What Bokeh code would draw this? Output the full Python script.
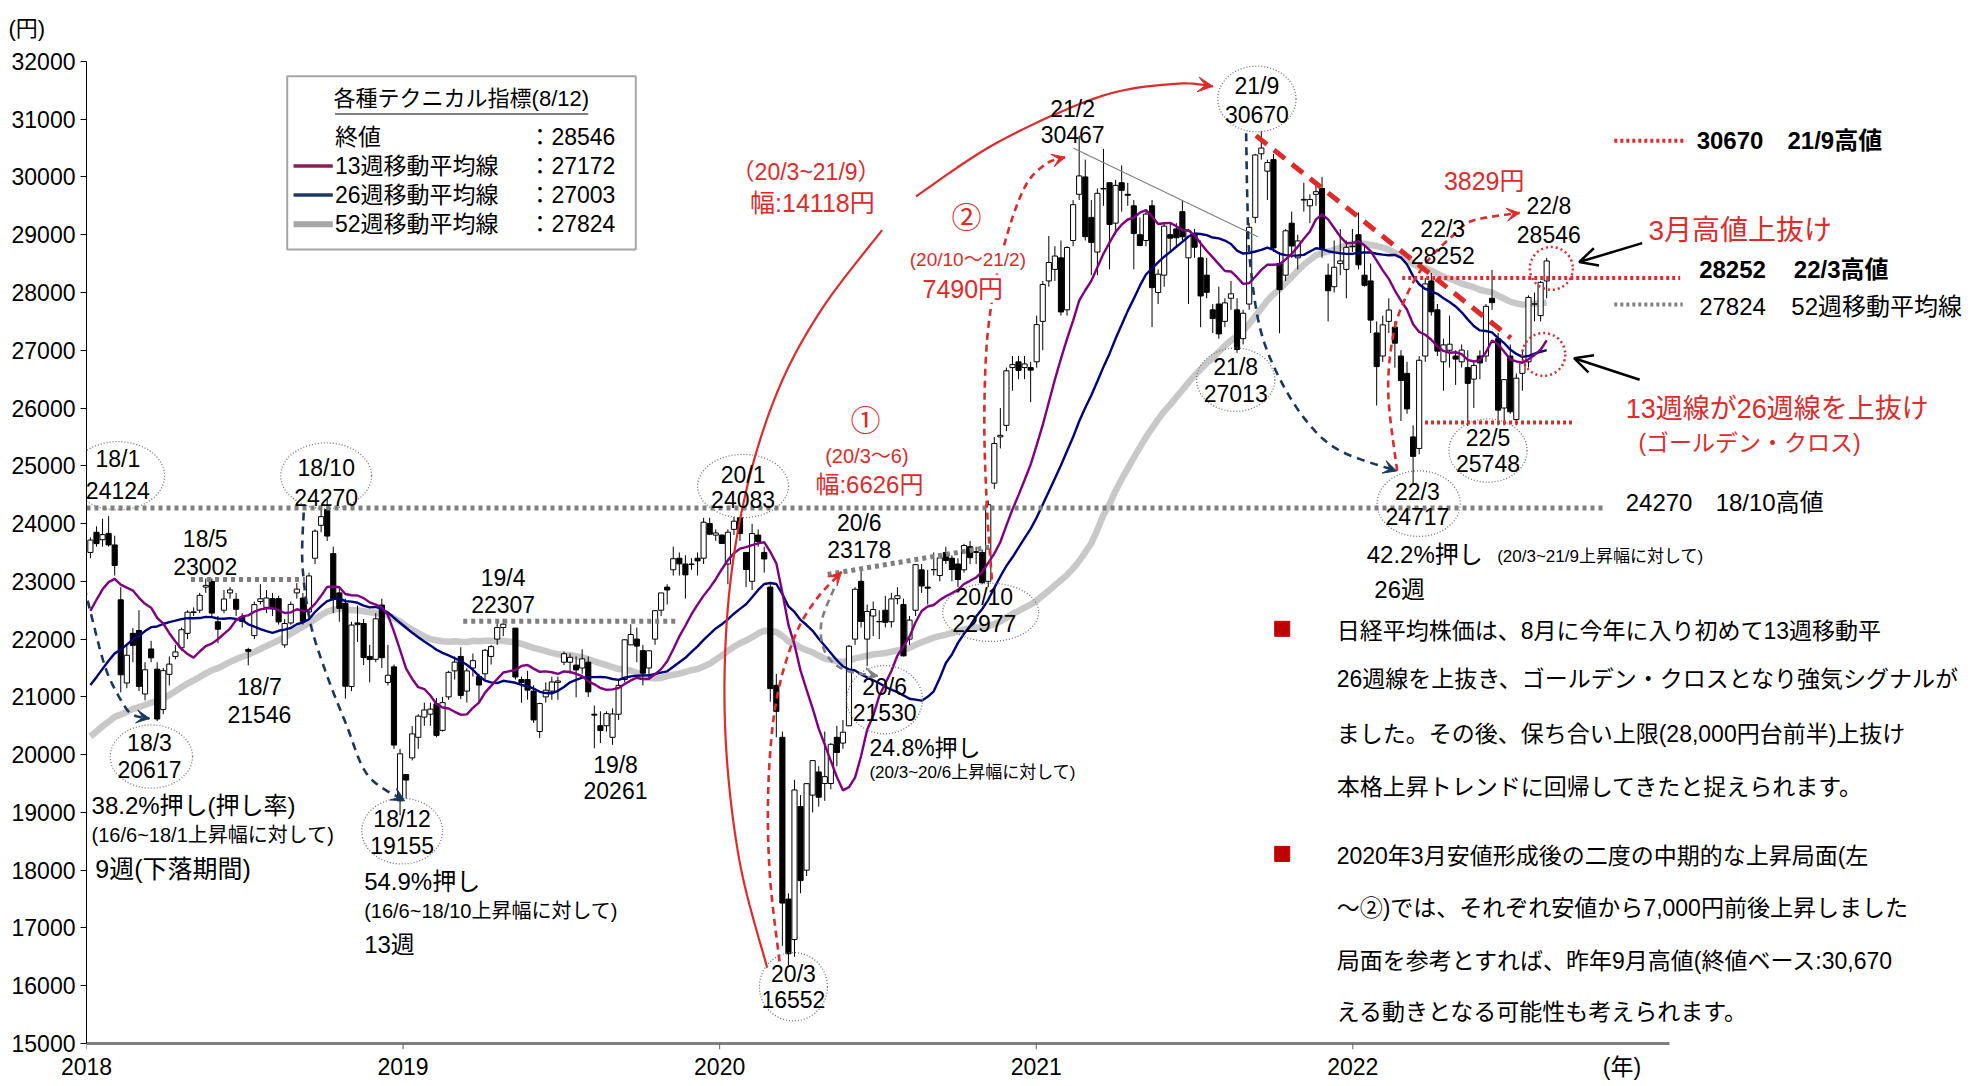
import numpy as np
import pandas as pd
from bokeh.plotting import figure
from bokeh.models import Range1d, FixedTicker, Label, Arrow, VeeHead, OpenHead, Title
from bokeh.embed import file_html
from bokeh.resources import INLINE

# ---------------- data (weekly Nikkei 225, yen) ----------------
close_2017 = [19454, 19287, 19137, 19467, 18918, 19378, 19234, 19283, 19469, 19604, 19521, 19262, 18909,
              18664, 18335, 18620, 19196, 19445, 19883, 19590, 19686, 20177, 20013, 19943, 20132, 20033,
              19929, 20118, 20099, 19959, 19952, 19729, 19470, 19452, 19691, 19274, 19909, 20296, 20356,
              20690, 21155, 21457, 22008, 22539, 22681, 22396, 22550, 22819, 22811, 22553, 22902, 22765]

o18 = [23500, 23850, 23720, 23830, 23630, 22680, 21240, 22100, 22150, 21050, 21830, 21480, 20780, 21390, 21700,
       21850, 22100, 22460, 22500, 22900, 23000, 22300, 22500, 22800, 22690, 22380, 21820, 22060, 22650, 22550,
       22700, 22700, 21900, 22280, 22800, 22710, 22470, 23400, 23970, 24240, 23480, 22800, 22620, 21180, 22280,
       22270, 21700, 21650, 22590, 21250, 21520, 19200]
h18 = [23760, 23952, 24084, 24129, 23790, 22900, 21900, 22190, 22500, 21600, 21970, 21600, 21500, 21700, 21900,
       22200, 22500, 22550, 22800, 23050, 23050, 22400, 22850, 22900, 22800, 22450, 21850, 22650, 22950, 22850,
       22800, 22750, 22350, 22650, 22970, 22800, 23150, 23900, 24300, 24450, 23600, 22900, 22700, 22300, 22580,
       22350, 21900, 22450, 22700, 21900, 21560, 20100]
l18 = [23400, 23600, 23600, 23600, 23100, 21078, 21150, 21600, 21100, 20940, 21600, 20580, 20700, 21200, 21650,
       21800, 22000, 22400, 22450, 22800, 22400, 21930, 22450, 22700, 22400, 22200, 21546, 22000, 22600, 22450,
       22400, 22250, 21850, 22250, 22700, 22250, 22400, 23300, 23850, 23700, 22450, 22300, 20970, 21100, 21950,
       21550, 21250, 21600, 21500, 21200, 20100, 18950]
c18 = [23714, 23653, 23808, 23631, 23274, 21382, 21720, 21892, 21181, 21469, 21676, 20617, 21454, 21567, 21778,
       22162, 22467, 22472, 22758, 22930, 22450, 22171, 22694, 22851, 22516, 22304, 21788, 22597, 22698, 22712,
       22525, 22298, 22270, 22601, 22865, 22307, 23094, 23869, 24120, 23784, 22694, 22532, 21184, 22243, 22250,
       21680, 21646, 22351, 21678, 21374, 20166, 20015]

o19 = [19655, 19944, 20300, 20650, 20700, 20880, 20420, 21000, 21450, 21700, 21100, 21500, 21350, 21400, 21700,
       22000, 22200, 22190, 21300, 21300, 21100, 20400, 21000, 21100, 21250, 21600, 21600, 21550, 21500, 21600,
       20700, 20500, 20500, 20300, 20700, 21300, 21900, 22000, 21800, 21500, 22000, 22500, 22900, 23200, 23400,
       23300, 23300, 23400, 23400, 24000, 23800, 23800]
h19 = [19655, 20494, 20700, 20900, 20900, 20980, 21000, 21450, 21700, 21860, 21500, 21750, 21400, 21830, 21900,
       22300, 22350, 22190, 21350, 21450, 21200, 20900, 21250, 21350, 21350, 21784, 21750, 21700, 21823, 21700,
       20850, 20750, 20750, 20800, 21300, 22000, 22255, 22200, 21900, 21800, 22500, 22800, 22950, 23600, 23500,
       23450, 23400, 23500, 24100, 24100, 23900, 23810]
l19 = [19241, 19900, 20100, 20500, 20500, 20300, 20400, 20950, 21300, 20960, 20900, 21350, 20900, 21300, 21560,
       21900, 22050, 21300, 20900, 20950, 20550, 20289, 20900, 20950, 20950, 21550, 21400, 20993, 21400, 21000,
       20110, 20200, 20400, 20170, 20600, 21250, 21900, 21600, 21200, 21300, 21900, 22400, 22600, 23100, 23100,
       22700, 23200, 23100, 23300, 23800, 23700, 23650]
c19 = [19561, 20359, 20666, 20774, 20788, 20333, 20900, 21425, 21602, 21025, 21450, 21627, 21205, 21807, 21870,
       22200, 22258, 21344, 21250, 21117, 20601, 20884, 21116, 21258, 21275, 21746, 21685, 21466, 21658, 21087,
       20684, 20418, 20710, 20704, 21199, 21988, 22079, 21879, 21410, 21798, 22492, 22799, 22850, 23391, 23303,
       23112, 23293, 23354, 24023, 23816, 23837, 23656]

o20 = [23300, 23900, 24100, 23500, 23000, 23800, 23500, 22900, 21200, 20300, 17500, 16800, 19100, 18000, 19300,
       19700, 19500, 19500, 20300, 20200, 20500, 22000, 23000, 22000, 22400, 22300, 22500, 22300, 22700, 22600,
       22000, 22500, 23200, 22900, 23200, 23100, 23500, 23400, 23300, 23200, 23600, 23500, 23500, 23000, 24700,
       25500, 25700, 26700, 26800, 26700, 26700, 26800]
h20 = [23900, 24115, 24100, 23500, 23995, 23900, 23600, 22950, 21400, 20400, 17600, 19564, 19300, 19500, 19900,
       19800, 20400, 20200, 20500, 20600, 21900, 22900, 23185, 22600, 22650, 22500, 22750, 22800, 22900, 22700,
       22400, 23300, 23300, 23200, 23500, 23450, 23600, 23450, 23400, 23650, 23700, 23600, 23550, 24400, 25500,
       26000, 26700, 26900, 26900, 26900, 26800, 27600]
l20 = [22950, 23800, 23700, 22900, 22850, 23600, 23150, 20916, 20300, 16690, 16358, 16500, 17600, 17900, 19000,
       19100, 19200, 19400, 19800, 20100, 20500, 21900, 22200, 21530, 22050, 22000, 22200, 22200, 22600, 21700,
       21900, 22400, 22800, 22600, 23100, 23000, 23300, 23000, 22900, 23150, 23300, 23300, 22950, 22900, 24600,
       25300, 25600, 26300, 26500, 26500, 26100, 26700]
c20 = [23850, 24041, 23827, 23205, 23827, 23688, 23387, 21143, 20750, 17431, 16553, 19389, 17820, 19498, 19897,
       19262, 19619, 20179, 20037, 20388, 21877, 22863, 22305, 22478, 22512, 22306, 22290, 22696, 22751, 21710,
       22329, 23289, 22920, 22882, 23205, 23406, 23360, 23204, 23030, 23619, 23410, 23516, 22977, 24325, 25385,
       25527, 26644, 26751, 26652, 26763, 26656, 27444]

o21 = [27500, 28200, 28400, 28600, 27700, 28900, 29700, 30000, 29300, 28700, 29800, 29900, 29200, 29900, 29700,
       29500, 29000, 28900, 29500, 28000, 28300, 29000, 29100, 29400, 28600, 29000, 28600, 28300, 27700, 27800,
       27500, 27900, 27700, 27200, 27800, 29300, 30400, 30100, 30300, 28500, 28300, 29200, 28600, 29600, 29500,
       29700, 29800, 28300, 28100, 28500, 28400, 28800]
h21 = [28200, 28979, 28800, 28900, 28800, 29600, 30714, 30300, 29600, 29800, 30485, 29900, 29950, 30200, 29900,
       29600, 29300, 29400, 29600, 28400, 29200, 29200, 29200, 29600, 29100, 29100, 28900, 28600, 27800, 28100,
       27900, 28200, 27900, 27700, 29200, 30400, 30795, 30300, 30400, 28700, 29100, 29400, 29000, 29900, 29700,
       29900, 30000, 28500, 28900, 29100, 28900, 29100]
l21 = [27000, 28100, 28200, 27600, 27600, 28800, 29600, 28900, 28300, 28300, 29500, 28400, 29000, 29400, 29500,
       28400, 28800, 28800, 27400, 27800, 28100, 28700, 28800, 28900, 27800, 28600, 27400, 27900, 27300, 27200,
       27400, 27700, 26954, 27100, 27700, 29200, 30300, 29600, 28700, 27294, 28200, 28600, 28400, 29400, 29200,
       29500, 28600, 27500, 28000, 28300, 27900, 28700]
c21 = [28139, 28519, 28631, 27663, 28779, 29520, 30018, 28966, 28864, 29717, 29792, 29176, 29854, 29768, 29683,
       29020, 28813, 29357, 28084, 28317, 29149, 28941, 28948, 28964, 29066, 28783, 27940, 28003, 27548, 27283,
       27820, 27977, 27013, 27641, 29128, 30381, 30500, 30249, 28771, 28049, 29068, 28805, 28893, 29612, 29610,
       29745, 28751, 28030, 28437, 28546, 28782, 28792]

o22 = [29000, 28300, 28200, 27300, 26900, 27500, 27400, 26900, 26600, 25500, 25300, 26900, 28200, 27700, 26800,
       27000, 26900, 26800, 26700, 26500, 26900, 26900, 27900, 27200, 26000, 26900, 25800, 26600, 26800, 27800,
       27600, 28200]
h22 = [29388, 28800, 28500, 27500, 27600, 27900, 27500, 27000, 26800, 25700, 26900, 28250, 28338, 27800, 27200,
       27600, 27000, 27100, 27000, 26800, 27000, 27800, 28389, 27300, 26500, 27100, 26600, 27000, 27950, 28000,
       28200, 28600]
l22 = [28400, 28100, 27300, 26044, 26800, 27300, 26700, 25776, 25900, 24681, 25200, 26800, 27600, 26900, 26300,
       26700, 26400, 26700, 25688, 26000, 26500, 26800, 27700, 25700, 25700, 25900, 25700, 26300, 26700, 27500,
       27500, 27900]
c22 = [28479, 28124, 27522, 26717, 27440, 27696, 27122, 26476, 25985, 25163, 26827, 28149, 27666, 26985, 27093,
       27105, 26847, 27003, 26427, 26739, 26781, 27761, 27824, 25963, 26491, 25935, 26517, 26788, 27915, 27801,
       28175, 28546]

year_ticks = [2018, 2019, 2020, 2021, 2022]
yen_ticks = list(range(15000, 32001, 1000))
level_1810 = 24270
level_2203 = 28252
level_2205 = 25748
level_1805 = 23002
level_1904 = 22307
legend_values = ["28546", "27172", "27003", "27824"]

# ---------------- derived ----------------
weeks = pd.date_range("2018-01-05", "2022-08-12", freq="W-FRI")
weeks = weeks[weeks != pd.Timestamp("2019-05-03")]   # Golden Week: no trading
opens = np.array(o18 + o19 + o20 + o21 + o22, float)
highs = np.array(h18 + h19 + h20 + h21 + h22, float)
lows = np.array(l18 + l19 + l20 + l21 + l22, float)
closes = np.array(c18 + c19 + c20 + c21 + c22, float)
n = len(closes)
weeks = weeks[:n]
x = np.array([d.year + (d.dayofyear - 0.5) / (366 if d.is_leap_year else 365) for d in weeks])

allc = pd.Series(close_2017 + list(closes))
ma13 = allc.rolling(13).mean().values[-n:]
ma26 = allc.rolling(26).mean().values[-n:]
ma52 = allc.rolling(52).mean().values[-n:]

FONT = "'Liberation Sans', 'Noto Sans CJK JP', sans-serif"
RED = "#e02a2a"
NAVY_D = "#17375e"
GRAY = "#7f7f7f"
UNIT_X = 2022.85

p = figure(width=1976, height=1082, output_backend="svg", toolbar_location=None,
           x_range=Range1d(2018, 2023.970), y_range=Range1d(14896, 32362),
           min_border_left=86, min_border_right=0, min_border_top=40, min_border_bottom=30)
p.background_fill_color = "white"
p.border_fill_color = "white"
p.outline_line_color = None
p.grid.visible = False

p.add_layout(Title(text="(円)", align="left", offset=-78, standoff=0, text_font=FONT, text_font_size="22px",
                   text_font_style="normal", text_color="black"), "above")

xa = p.xaxis[0]
xa.ticker = FixedTicker(ticks=year_ticks + [UNIT_X], minor_ticks=[])
xa.major_label_overrides = {UNIT_X: "(年)"}
xa.axis_line_color = None
xa.major_tick_line_color = None
xa.major_tick_out = 0
xa.major_tick_in = 0
xa.major_label_standoff = 4
xa.major_label_text_font = FONT
xa.major_label_text_font_size = "23px"
xa.major_label_text_color = "black"

ya = p.yaxis[0]
ya.ticker = FixedTicker(ticks=yen_ticks, minor_ticks=[])
ya.bounds = (15000, 32000)
ya.axis_line_color = "black"
ya.major_tick_line_color = "black"
ya.major_tick_out = 6
ya.major_tick_in = 0
ya.major_label_standoff = 5
ya.major_label_text_font = FONT
ya.major_label_text_font_size = "23px"
ya.major_label_text_color = "black"


def label(xv, yv, s, size, color="black", align="center", bold=False, bg=None):
    lab = Label(x=xv, y=yv, text=s, text_font=FONT, text_font_size=f"{size}px", text_color=color,
                text_align=align, text_baseline="middle", text_font_style="bold" if bold else "normal")
    if bg is not None:
        lab.background_fill_color = bg
    p.add_layout(lab)


def smooth(pts, k=14):
    P = np.array(pts, float)
    P = np.vstack([P[0], P, P[-1]])
    out = []
    for i in range(1, len(P) - 2):
        p0, p1, p2, p3 = P[i - 1], P[i], P[i + 1], P[i + 2]
        for t in np.linspace(0, 1, k, endpoint=False):
            t2, t3 = t * t, t * t * t
            out.append(0.5 * ((2 * p1) + (-p0 + p2) * t + (2 * p0 - 5 * p1 + 4 * p2 - p3) * t2
                              + (-p0 + 3 * p1 - 3 * p2 + p3) * t3))
    out.append(P[-2])
    return np.array(out)


def curve(pts, color, width, dash="solid", head=False, hsize=13):
    c = smooth(pts)
    p.line(c[:, 0], c[:, 1], line_color=color, line_width=width, line_dash=dash)
    if head:
        p.add_layout(Arrow(end=VeeHead(size=hsize, fill_color=color, line_color=color, line_width=1),
                           x_start=c[-4, 0], y_start=c[-4, 1], x_end=c[-1, 0], y_end=c[-1, 1],
                           line_alpha=0))


# x axis line and year ticks (drawn on the 15000 baseline)
p.line([2018, 2023], [15000, 15000], line_color="#808080", line_width=3)
p.segment(x0=year_ticks, y0=[15000] * 5, x1=year_ticks, y1=[14896] * 5, line_color="#606060", line_width=1)

# 52-week MA under the candles
p.line(x, ma52, line_color="#c8c8c8", line_width=6.5)

# candles
bw = 0.85 * 7 / 365.25
up = closes >= opens
p.segment(x0=x, y0=lows, x1=x, y1=highs, line_color="black", line_width=1)
p.vbar(x=x[up], width=bw, top=closes[up], bottom=opens[up], fill_color="white", line_color="black", line_width=1)
p.vbar(x=x[~up], width=bw, top=opens[~up], bottom=closes[~up], fill_color="black", line_color="black",
       line_width=1)

p.line(x, ma26, line_color="#000080", line_width=2.4)
p.line(x, ma13, line_color="#800080", line_width=2.4)

# horizontal reference lines
p.line([2018.0, 2022.795], [level_1810, level_1810], line_color=GRAY, line_width=5, line_dash="4 4")
p.line([2018.33, 2018.69], [level_1805 + 30, level_1805 + 30], line_color=GRAY, line_width=5, line_dash="4 4")
p.line([2019.19, 2019.862], [level_1904, level_1904], line_color=GRAY, line_width=5, line_dash="4 4")
p.line([2020.341, 2020.860], [23120, 23600], line_color=GRAY, line_width=5, line_dash="4 4")
p.line([2022.156, 2023.034], [level_2203, level_2203], line_color=RED, line_width=4, line_dash="3 3")
p.line([2022.228, 2022.695], [level_2205, level_2205], line_color=RED, line_width=4, line_dash="3 3")

# trend lines
p.line([2021.118, 2021.700], [30496, 28964], line_color="#808080", line_width=1.2)
p.line([2021.694, 2022.499], [30715, 27212], line_color=RED, line_width=5, line_dash="14 9")

# dashed / solid swing arrows
curve([(2017.968, 24104), (2017.984, 23185), (2018.020, 22310), (2018.063, 21456), (2018.115, 20887),
       (2018.147, 20690), (2018.199, 20625)], NAVY_D, 2.6, "8 6", head=True)
curve([(2018.686, 24192), (2018.682, 23295), (2018.706, 22310), (2018.754, 21456), (2018.821, 20515),
       (2018.889, 19639), (2019.005, 19201)], NAVY_D, 2.6, "8 6", head=True)
curve([(2021.663, 30757), (2021.667, 29553), (2021.675, 28546), (2021.707, 27385), (2021.767, 26531),
       (2021.855, 25765), (2021.959, 25262), (2022.138, 24911)], NAVY_D, 2.6, "8 6", head=True)
curve([(2020.150, 16311), (2020.062, 18178), (2020.018, 20367), (2020.026, 22556), (2020.082, 24526),
       (2020.182, 26277), (2020.321, 27700), (2020.513, 29079)], RED, 2.2)
curve([(2020.620, 29664), (2020.880, 30605), (2021.203, 31394), (2021.438, 31612), (2021.558, 31569)],
      RED, 2.2, head=True, hsize=15)
curve([(2020.189, 16420), (2020.158, 17953), (2020.154, 19485), (2020.178, 20908), (2020.234, 22002),
       (2020.301, 22659), (2020.385, 23162)], RED, 2.6, "7 5", head=True)
curve([(2020.361, 22872), (2020.321, 22281), (2020.333, 21777), (2020.393, 21471), (2020.500, 21362)],
      "#808080", 2.6, "7 5", head=True)
curve([(2020.860, 23032), (2020.844, 24302), (2020.836, 25834), (2020.848, 27366), (2020.892, 28680),
       (2020.959, 29774), (2021.027, 30212), (2021.091, 30343)], RED, 2.6, "7 5", head=True)
curve([(2022.140, 24912), (2022.112, 26247), (2022.128, 27276), (2022.172, 27977), (2022.236, 28546),
       (2022.320, 29005), (2022.380, 29246), (2022.527, 29378)], RED, 2.6, "7 5", head=True)

# black pointer arrows
p.add_layout(Arrow(end=OpenHead(size=18, line_color="black", line_width=2.5), x_start=2022.914, y_start=28855,
                   x_end=2022.715, y_end=28527, line_color="black", line_width=2.5))
p.add_layout(Arrow(end=OpenHead(size=18, line_color="black", line_width=2.5), x_start=2022.906, y_start=26490,
                   x_end=2022.699, y_end=26862, line_color="black", line_width=2.5))

# red dotted circles
p.ellipse(x=[2022.627, 2022.603], y=[28417, 26928], width=0.136, height=744, fill_color=None,
          line_color=RED, line_width=2.5, line_dash="2 3")

# circled extremes
circled = [("18/1", "24124", 2018.099, 25111, 24564, 2018.099, 24827, 0.295, 1182),
           ("18/10", "24270", 2018.757, 24958, 24454, 2018.757, 24827, 0.287, 1138),
           ("18/3", "20617", 2018.199, 20208, 19748, 2018.205, 19967, 0.260, 1095),
           ("18/12", "19155", 2018.997, 18894, 18435, 2018.997, 18676, 0.255, 1138),
           ("20/1", "24083", 2020.074, 24848, 24411, 2020.074, 24651, 0.287, 1095),
           ("20/3", "16552", 2020.233, 16202, 15764, 2020.233, 15983, 0.215, 1182),
           ("20/6", "21530", 2020.521, 21171, 20733, 2020.521, 20952, 0.239, 1182),
           ("20/10", "22977", 2020.836, 22725, 22266, 2020.856, 22463, 0.303, 1007),
           ("21/9", "30670", 2021.697, 31569, 31087, 2021.697, 31350, 0.247, 1138),
           ("21/8", "27013", 2021.630, 26709, 26249, 2021.630, 26490, 0.247, 1095),
           ("22/3", "24717", 2022.204, 24542, 24126, 2022.208, 24345, 0.263, 1138),
           ("22/5", "25748", 2022.427, 25483, 25045, 2022.427, 25264, 0.247, 1095)]
p.ellipse(x=[c[5] for c in circled], y=[c[6] for c in circled], width=[c[7] for c in circled],
          height=[c[8] for c in circled], fill_color=None, line_color="#707070", line_width=1.3, line_dash="1 2")
for d, v, tx, y1, y2, *_ in circled:
    label(tx, y1, d, 23)
    label(tx, y2, v, 23)

plain = [("18/5", "23002", 2018.375, 23732, 23250), ("18/7", "21546", 2018.546, 21171, 20690),
         ("19/4", "22307", 2019.316, 23054, 22594), ("19/8", "20261", 2019.671, 19814, 19376),
         ("20/6", "23178", 2020.441, 24017, 23557), ("21/2", "30467", 2021.115, 31175, 30737),
         ("22/3", "28252", 2022.284, 29095, 28636), ("22/8", "28546", 2022.619, 29489, 29008)]
for d, v, tx, y1, y2 in plain:
    label(tx, y1, d, 23)
    label(tx, y2, v, 23)

# retracement notes
label(2018.016, 19113, "38.2%押し(押し率)", 24, align="left")
label(2018.016, 18610, "(16/6~18/1上昇幅に対して)", 20, align="left")
label(2018.028, 18019, "9週(下落期間)", 25, align="left")
label(2018.877, 17800, "54.9%押し", 24, align="left")
label(2018.877, 17297, "(16/6~18/10上昇幅に対して)", 20, align="left")
label(2018.877, 16706, "13週", 24, align="left")
label(2020.473, 20120, "24.8%押し", 23, align="left")
label(2020.473, 19683, "(20/3~20/6上昇幅に対して)", 17, align="left")
label(2022.044, 23470, "42.2%押し", 24, align="left")
label(2022.456, 23427, "(20/3~21/9上昇幅に対して)", 17, align="left")
label(2022.068, 22859, "26週", 24, align="left")

# red rise annotations
label(2020.273, 30080, "（20/3~21/9）", 23, RED)
label(2020.293, 29555, "幅:14118円", 25, RED)
label(2020.780, 29292, "②", 30, RED)
label(2020.784, 28570, "(20/10～21/2)", 19, RED, bg="white")
label(2020.768, 28066, "7490円", 25, RED, bg="white")
label(2020.461, 25790, "①", 30, RED)
label(2020.465, 25177, "(20/3～6)", 20, RED)
label(2020.473, 24674, "幅:6626円", 24, RED)
label(2022.415, 29927, "3829円", 25, RED)
label(2022.934, 29073, "3月高値上抜け", 28, RED, align="left")
label(2022.862, 25987, "13週線が26週線を上抜け", 27, RED, align="left")
label(2022.902, 25396, "(ゴールデン・クロス)", 23, RED, align="left")

# right-hand level labels
p.line([2022.826, 2023.054], [30627, 30627], line_color=RED, line_width=4, line_dash="3 3")
label(2023.086, 30627, "30670", 24, bold=True, align="left")
label(2023.373, 30627, "21/9高値", 24, bold=True, align="left")
label(2023.094, 28395, str(level_2203), 24, bold=True, align="left")
label(2023.393, 28395, "22/3高値", 24, bold=True, align="left")
p.line([2022.826, 2023.042], [27790, 27790], line_color=GRAY, line_width=4, line_dash="3 3")
label(2023.094, 27760, legend_values[3], 24, align="left")
label(2023.385, 27760, "52週移動平均線", 24, align="left")
label(2022.862, 24367, str(level_1810), 24, align="left")
label(2023.146, 24367, "18/10高値", 24, align="left")

# legend box
p.quad(left=2018.634, right=2019.735, top=31744, bottom=28745, fill_color="white", line_color="#a6a6a6",
       line_width=2)
label(2019.184, 31350, "各種テクニカル指標(8/12)", 22)
p.line([2018.785, 2019.585], [31090, 31090], line_color="black", line_width=1.2)
rows_y = [30693, 30190, 29686, 29183]
row_names = ["終値", "13週移動平均線", "26週移動平均線", "52週移動平均線"]
swatch = [None, ("#8c1d54", 3.5), ("#1f3864", 3.5), ("#a6a6a6", 6)]
for ry, nm, val, sw in zip(rows_y, row_names, legend_values, swatch):
    label(2018.785, ry, nm, 23, align="left")
    label(2019.396, ry, "：" + val, 23, align="left")
    if sw:
        p.line([2018.654, 2018.778], [ry, ry], line_color=sw[0], line_width=sw[1])

# commentary block
p.scatter([2021.777, 2021.777], [22178, 18282], marker="square", size=15, color="#c00000")
body = ["日経平均株価は、8月に今年に入り初めて13週移動平",
        "26週線を上抜き、ゴールデン・クロスとなり強気シグナルが",
        "ました。その後、保ち合い上限(28,000円台前半)上抜け",
        "本格上昇トレンドに回帰してきたと捉えられます。",
        "2020年3月安値形成後の二度の中期的な上昇局面(左",
        "～②)では、それぞれ安値から7,000円前後上昇しました",
        "局面を参考とすれば、昨年9月高値(終値ベース:30,670",
        "える動きとなる可能性も考えられます。"]
body_y = [22135, 21303, 20362, 19442, 18238, 17341, 16421, 15546]
for s, by in zip(body, body_y):
    label(2021.949, by, s, 23, align="left")

open("out.html", "w").write(file_html(p, INLINE))
